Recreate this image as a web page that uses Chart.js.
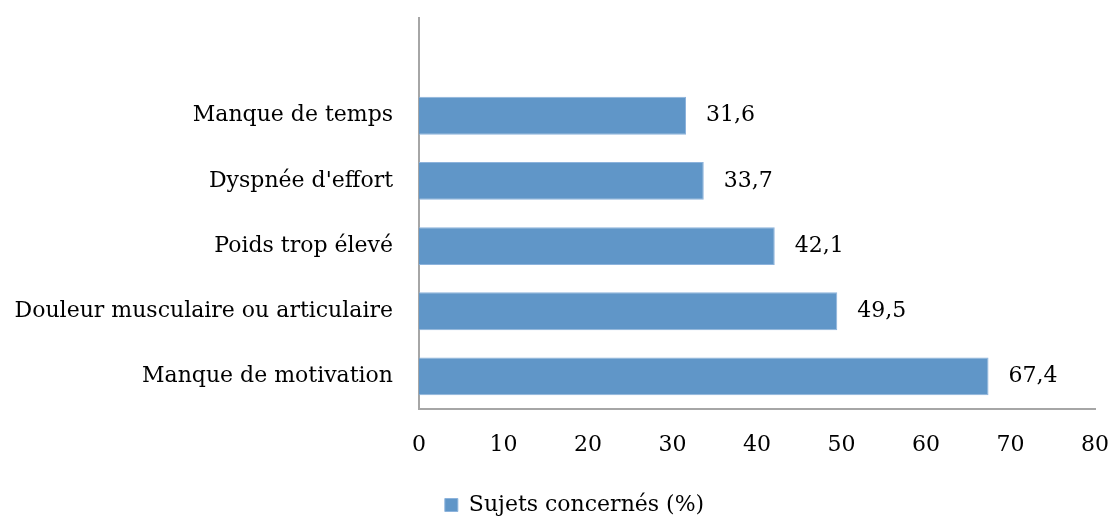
<!DOCTYPE html>
<html>
<head>
<meta charset="utf-8">
<script src="https://cdn.jsdelivr.net/npm/chart.js@4"></script>
<style>
  html, body { margin: 0; padding: 0; background: #fff; }
  #wrap { width: 1113px; height: 518px; }
</style>
</head>
<body>
<div id="wrap"><canvas id="chart" width="1113" height="518"></canvas></div>
<script>
// categories, top to bottom (first slot is left empty in the original)
const categories = ['', 'Manque de temps', "Dyspnée d'effort", 'Poids trop élevé', 'Douleur musculaire ou articulaire', 'Manque de motivation'];
const values = [null, 31.6, 33.7, 42.1, 49.5, 67.4];
const xTicks = [0, 10, 20, 30, 40, 50, 60, 70, 80];
const seriesName = 'Sujets concernés (%)';

const serif = "'DejaVu Serif', serif";

// value labels to the right of each bar, french decimal comma
const barLabels = {
    id: 'barLabels',
    afterDatasetsDraw(chart) {
        const ctx = chart.ctx;
        const meta = chart.getDatasetMeta(0);
        ctx.save();
        ctx.font = '22px ' + serif;
        ctx.fillStyle = '#000';
        ctx.textBaseline = 'middle';
        ctx.textAlign = 'left';
        meta.data.forEach((bar, i) => {
            if (values[i] == null) return;
            ctx.fillText(values[i].toFixed(1).replace('.', ','), bar.x + 20, bar.y);
        });
        ctx.restore();
    }
};

// legend sits a little right of the canvas centre in the original
const legendShift = {
    id: 'legendShift',
    afterLayout(chart) {
        chart.legend.left += 27;
        chart.legend.right += 27;
    }
};

new Chart(document.getElementById('chart').getContext('2d'), {
    type: 'bar',
    data: {
        labels: categories,
        datasets: [{
            label: seriesName,
            data: values,
            backgroundColor: '#6096c8',
            borderColor: '#8db3dc',
            borderWidth: 1,
            barPercentage: 0.58,
            categoryPercentage: 1
        }]
    },
    options: {
        indexAxis: 'y',
        responsive: false,
        animation: false,
        layout: { padding: { top: 18, right: 18, left: 0, bottom: -8 } },
        scales: {
            x: {
                min: 0,
                max: 80,
                afterBuildTicks: scale => { scale.ticks = xTicks.map(v => ({ value: v })); },
                afterFit: scale => {
                    scale.height = 83;
                    scale.paddingLeft = 0;
                    scale.paddingRight = 0;
                },
                grid: { display: false, drawTicks: false },
                border: { display: true, color: '#a6a6a6', width: 2 },
                ticks: { color: '#000', font: { family: serif, size: 22 }, padding: 23 }
            },
            y: {
                afterFit: scale => {
                    scale.width = 419;
                    scale.paddingTop = 0;
                    scale.paddingBottom = 0;
                },
                grid: { display: false, drawTicks: false },
                border: { display: true, color: '#a6a6a6', width: 2 },
                ticks: { color: '#000', font: { family: serif, size: 22 }, padding: 26 }
            }
        },
        plugins: {
            legend: {
                position: 'bottom',
                labels: {
                    color: '#000',
                    font: { family: serif, size: 22 },
                    boxWidth: 13,
                    boxHeight: 13,
                    padding: 2
                }
            },
            tooltip: { enabled: false }
        }
    },
    plugins: [barLabels, legendShift]
});
</script>
</body>
</html>
